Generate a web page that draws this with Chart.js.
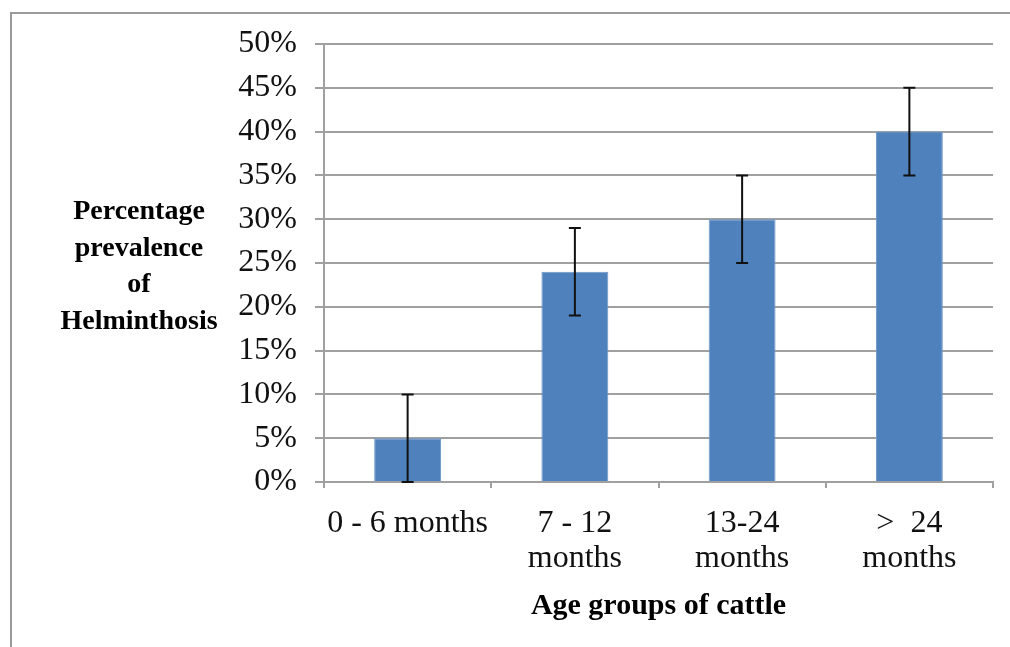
<!DOCTYPE html>
<html>
<head>
<meta charset="utf-8">
<script src="https://cdn.jsdelivr.net/npm/chart.js@4/dist/chart.umd.min.js"></script>
<style>
  body { margin: 0; background: #fff; }
  canvas { display: block; }
</style>
</head>
<body>
<canvas id="helminthChart" width="1010" height="647"></canvas>
<script>
// Data
const ageGroups = [['0 - 6 months'], ['7 - 12', 'months'], ['13-24', 'months'], ['>  24', 'months']];
const prevalence = [5, 24, 30, 40];
const errorMargin = [5, 5, 5, 5];
const yTitleLines = ['Percentage', 'prevalence', 'of', 'Helminthosis'];

const helminthChart = document.getElementById('helminthChart');

// frame round the picture
const framePlugin = {
    id: 'frame',
    beforeDraw(chart) {
        const ctx = chart.ctx;
        ctx.save();
        ctx.fillStyle = '#ffffff';
        ctx.fillRect(0, 0, chart.width, chart.height);
        ctx.strokeStyle = '#9a9a9a';
        ctx.lineWidth = 2;
        ctx.strokeRect(11, 13, chart.width + 20, chart.height + 20);
        ctx.restore();
    }
};

// error bars on top of the bars
const errorBarPlugin = {
    id: 'errorBars',
    afterDatasetsDraw(chart) {
        const ctx = chart.ctx;
        const yScale = chart.scales.y;
        const meta = chart.getDatasetMeta(0);
        ctx.save();
        ctx.strokeStyle = '#111111';
        ctx.lineWidth = 2;
        meta.data.forEach((bar, i) => {
            const top = yScale.getPixelForValue(prevalence[i] + errorMargin[i]);
            const bottom = yScale.getPixelForValue(prevalence[i] - errorMargin[i]);
            ctx.beginPath();
            ctx.moveTo(bar.x, top);
            ctx.lineTo(bar.x, bottom);
            ctx.moveTo(bar.x - 6, top);
            ctx.lineTo(bar.x + 6, top);
            ctx.moveTo(bar.x - 6, bottom);
            ctx.lineTo(bar.x + 6, bottom);
            ctx.stroke();
        });
        ctx.restore();
    }
};

// horizontal y axis title, several lines
const yTitlePlugin = {
    id: 'yTitle',
    afterDraw(chart) {
        const ctx = chart.ctx;
        ctx.save();
        ctx.font = 'bold 28px "Liberation Serif", "Times New Roman", serif';
        ctx.fillStyle = '#000000';
        ctx.textAlign = 'center';
        ctx.textBaseline = 'middle';
        yTitleLines.forEach((line, i) => {
            ctx.fillText(line, 139, 212 + i * 36.5);
        });
        ctx.restore();
    }
};

new Chart(helminthChart, {
    type: 'bar',
    data: {
        labels: ageGroups,
        datasets: [{
            label: 'Prevalence',
            data: prevalence,
            backgroundColor: '#4f81bd',
            borderColor: '#6f97c8',
            borderWidth: 1,
            barPercentage: 1,
            categoryPercentage: 0.4
        }]
    },
    options: {
        responsive: false,
        animation: false,
        layout: {
            padding: { left: 0, right: 17, top: 44, bottom: 0 }
        },
        plugins: {
            legend: { display: false },
            tooltip: { enabled: false }
        },
        scales: {
            x: {
                afterFit(scale) { scale.height = 165; },
                grid: {
                    offset: true,
                    drawOnChartArea: false,
                    drawTicks: true,
                    tickLength: 6,
                    color: '#a0a0a0',
                    lineWidth: 2
                },
                border: { color: '#a0a0a0', width: 2 },
                ticks: {
                    color: '#111111',
                    padding: 18,
                    maxRotation: 0,
                    font: { family: '"Liberation Serif", "Times New Roman", serif', size: 32, lineHeight: 1.1 }
                },
                title: {
                    display: true,
                    text: 'Age groups of cattle',
                    color: '#000000',
                    padding: { top: 4, bottom: 23 },
                    font: { family: '"Liberation Serif", "Times New Roman", serif', size: 30, weight: 'bold' }
                }
            },
            y: {
                min: 0,
                max: 50,
                afterFit(scale) { scale.width = 324; },
                grid: {
                    color: '#a0a0a0',
                    lineWidth: 2,
                    tickLength: 9
                },
                border: { color: '#a0a0a0', width: 2 },
                ticks: {
                    stepSize: 5,
                    padding: 18,
                    color: '#111111',
                    font: { family: '"Liberation Serif", "Times New Roman", serif', size: 32 },
                    callback: (value) => value + '%'
                }
            }
        }
    },
    plugins: [framePlugin, errorBarPlugin, yTitlePlugin]
});
</script>
</body>
</html>
